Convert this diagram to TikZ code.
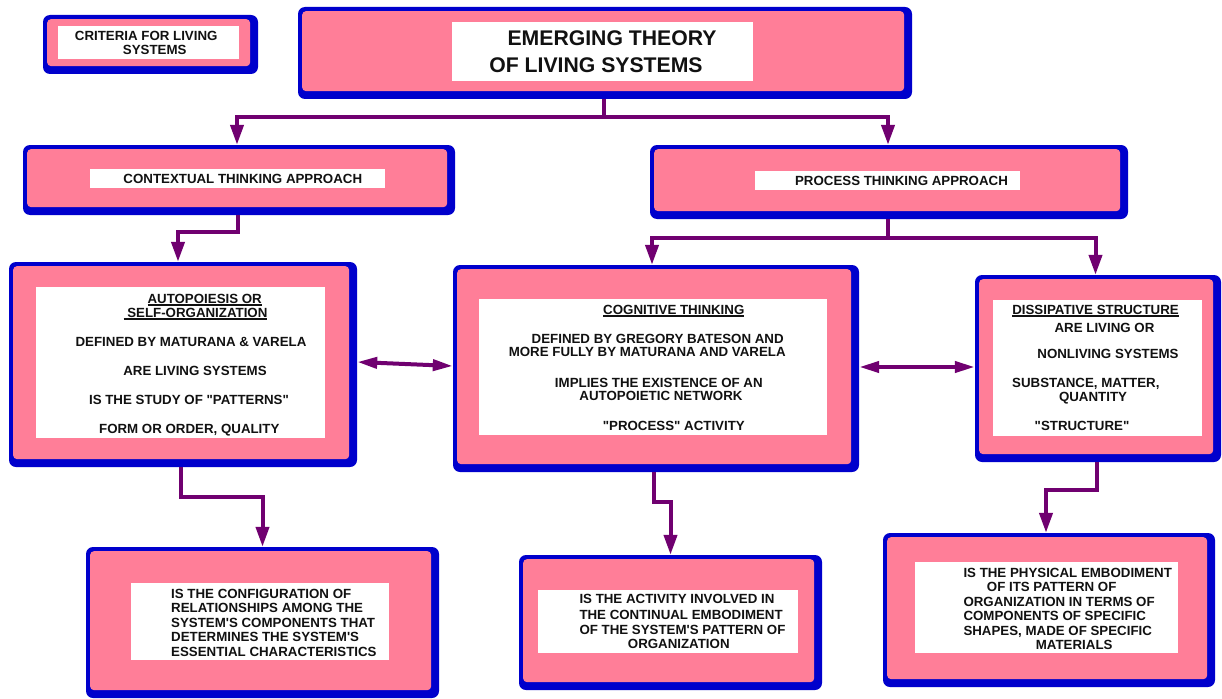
\documentclass[tikz,border=0pt]{standalone}
\usepackage{fontspec}
\setmainfont{Liberation Sans}[Ligatures=TeXOff]
\usetikzlibrary{arrows.meta}

\definecolor{panelblue}{RGB}{0,0,204}
\definecolor{panelpink}{RGB}{255,126,152}
\definecolor{linkpurple}{RGB}{112,0,112}
\definecolor{ink}{RGB}{17,17,17}

\tikzset{
  panelbox/.style={fill=panelblue, rounded corners=7pt, inner sep=0pt, draw=none},
  fieldbox/.style={fill=white, inner sep=0pt, draw=none},
  lbl/.style={inner sep=0pt, text=ink, font=\bfseries\fontsize{13.3}{14.5}\selectfont},
  headlbl/.style={inner sep=0pt, text=ink, font=\bfseries\fontsize{21.2}{28}\selectfont},
  link/.style={draw=linkpurple, line width=4pt, -{Triangle[length=20pt,width=13pt]}},
  duallink/.style={draw=linkpurple, line width=4pt,
    {Triangle[length=20pt,width=11pt]}-{Triangle[length=20pt,width=11pt]}},
}

% blue frame (thin top/left, heavy bottom/right) with a pink face
\newcommand\panel[5]{%
  \node[panelbox, minimum width={(#4-#2)*1pt}, minimum height={(#5-#3)*1pt}]
    (#1) at ({(#2+#4)/2},{(#3+#5)/2}) {};
  \fill[panelpink, rounded corners=4pt]
    ([xshift=4.3pt,yshift=-4.3pt]#1.north west) rectangle
    ([xshift=-8pt,yshift=8pt]#1.south east);}
% white text field
\newcommand\field[5]{%
  \node[fieldbox, minimum width={(#4-#2)*1pt}, minimum height={(#5-#3)*1pt}]
    (#1) at ({(#2+#4)/2},{(#3+#5)/2}) {};}
% text lines: name, x (centre or left edge), y of the capital-letter middle, text
\newcommand\ctxt[4]{\node[lbl, anchor=base] (#1) at (#2,{#3+4.8}) {#4};}
\newcommand\ltxt[4]{\node[lbl, anchor=base west] (#1) at (#2,{#3+4.8}) {#4};}
\newcommand\htxt[4]{\node[headlbl, anchor=base] (#1) at (#2,{#3+7.6}) {#4};}
% underline placed like a sans-serif word processor underline
\newcommand\ulbox[1]{\begingroup\setbox0\hbox{#1}\rlap{\rule[-2.4pt]{\wd0}{1.3pt}}\box0\endgroup}

\begin{document}
\begin{tikzpicture}[x=1pt,y=-1pt]
\fill[white] (0,0) rectangle (1222,698);
\useasboundingbox (0,0) rectangle (1222,698);

% ---------- panels ----------
\panel{crit}{43}{15}{258}{74}
\panel{title}{298}{7}{912}{99}
\panel{ctx}{23}{145}{455}{215}
\panel{proc}{650}{145}{1128}{219}
\panel{auto}{9}{262}{357}{467}
\panel{cog}{453}{265}{859}{472}
\panel{diss}{975}{275}{1221}{462}
\panel{pattern}{86}{547}{439}{698}
\panel{process}{519}{555}{822}{690}
\panel{structure}{883}{533}{1215}{687}

% ---------- white fields ----------
\field{critF}{58}{26}{239}{59}
\field{titleF}{452}{22}{753}{81}
\field{ctxF}{90}{169}{385}{188}
\field{procF}{755}{171}{1020}{190}
\field{autoF}{36}{287}{325}{438}
\field{cogF}{479}{299}{827}{435}
\field{dissF}{993}{300}{1202}{436}
\field{patternF}{131}{583}{389}{660}
\field{processF}{538}{590}{798}{653}
\field{structureF}{915}{562}{1178}{653}

% ---------- texts ----------
\ctxt{crit1}{146.2}{36}{CRITERIA FOR LIVING}
\ctxt{crit2}{154.7}{50}{SYSTEMS}

\htxt{title1}{612}{38}{EMERGING THEORY}
\htxt{title2}{596}{65}{OF LIVING SYSTEMS}

\ctxt{ctx1}{242.8}{178.3}{CONTEXTUAL THINKING APPROACH}
\ctxt{proc1}{901.5}{181}{PROCESS THINKING APPROACH}

\ctxt{auto1}{204.7}{298.3}{\ulbox{AUTOPOIESIS OR}}
\ctxt{auto2}{195.5}{312.3}{\ulbox{\ SELF-ORGANIZATION}}
\ctxt{auto3}{191}{341.7}{DEFINED BY MATURANA \& VARELA}
\ctxt{auto4}{195}{371}{ARE LIVING SYSTEMS}
\ctxt{auto5}{189}{400}{IS THE STUDY OF "PATTERNS"}
\ctxt{auto6}{189.3}{429}{FORM OR ORDER, QUALITY}

\ctxt{cog1}{673.8}{309.3}{\ulbox{COGNITIVE THINKING}}
\ctxt{cog2}{657.7}{338.3}{DEFINED BY GREGORY BATESON AND}
\ctxt{cog3}{647.2}{351.7}{MORE FULLY BY MATURANA AND VARELA}
\ctxt{cog4}{658.8}{382.3}{IMPLIES THE EXISTENCE OF AN}
\ctxt{cog5}{661}{396}{AUTOPOIETIC NETWORK}
\ctxt{cog6}{673.8}{425.7}{"PROCESS" ACTIVITY}

\ctxt{diss1}{1095.5}{309.3}{\ulbox{DISSIPATIVE STRUCTURE}}
\ctxt{diss2}{1104.5}{327.7}{ARE LIVING OR}
\ctxt{diss3}{1108}{353.3}{NONLIVING SYSTEMS}
\ctxt{diss4}{1085.8}{382.7}{SUBSTANCE, MATTER,}
\ctxt{diss5}{1093}{396.7}{QUANTITY}
\ctxt{diss6}{1082}{426}{"STRUCTURE"}

\ltxt{pattern1}{171}{593.3}{IS THE CONFIGURATION OF}
\ltxt{pattern2}{171}{607.7}{RELATIONSHIPS AMONG THE}
\ltxt{pattern3}{171}{622.3}{SYSTEM'S COMPONENTS THAT}
\ltxt{pattern4}{171}{636.7}{DETERMINES THE SYSTEM'S}
\ltxt{pattern5}{171}{651.5}{ESSENTIAL CHARACTERISTICS}

\ltxt{process1}{579.3}{599}{IS THE ACTIVITY INVOLVED IN}
\ltxt{process2}{579.3}{614.3}{THE CONTINUAL EMBODIMENT}
\ltxt{process3}{579.3}{629.3}{OF THE SYSTEM'S PATTERN OF}
\ltxt{process4}{627.7}{644}{ORGANIZATION}

\ltxt{structure1}{963.3}{572.7}{IS THE PHYSICAL EMBODIMENT}
\ltxt{structure2}{986.7}{587}{OF ITS PATTERN OF}
\ltxt{structure3}{963.3}{601.7}{ORGANIZATION IN TERMS OF}
\ltxt{structure4}{963.3}{616}{COMPONENTS OF SPECIFIC}
\ltxt{structure5}{963.3}{630.7}{SHAPES, MADE OF SPECIFIC}
\ltxt{structure6}{1035.7}{645}{MATERIALS}

% ---------- connectors ----------
\draw[link] ([xshift=-1pt]title.south) -- ++(0,18) -| ([xshift=-2pt]ctx.north);
\draw[link] ([xshift=-1pt]title.south) -- ++(0,18) -| ([xshift=-1pt]proc.north);
\draw[link] ([xshift=-1pt]ctx.south) -- ++(0,17) -| ([xshift=-5pt]auto.north);
\draw[link] ([xshift=-1pt]proc.south) -- ++(0,19) -| ([xshift=-4pt]cog.north);
\draw[link] ([xshift=-1pt]proc.south) -- ++(0,19) -| ([xshift=-2.5pt]diss.north);
\draw[duallink] ([yshift=2.5pt]auto.east) -- ([yshift=2.5pt]cog.west);
\draw[duallink] ([yshift=1.5pt]cog.east) -- ([yshift=1.5pt]diss.west);
\draw[link] ([xshift=-2pt]auto.south) -- ++(0,30) -| (pattern.north);
\draw[link] ([xshift=-2pt]cog.south) -- ++(0,30) -| (process.north);
\draw[link] ([xshift=-1.5pt]diss.south) -- ++(0,28) -| ([xshift=-3pt]structure.north);
\end{tikzpicture}
\end{document}
